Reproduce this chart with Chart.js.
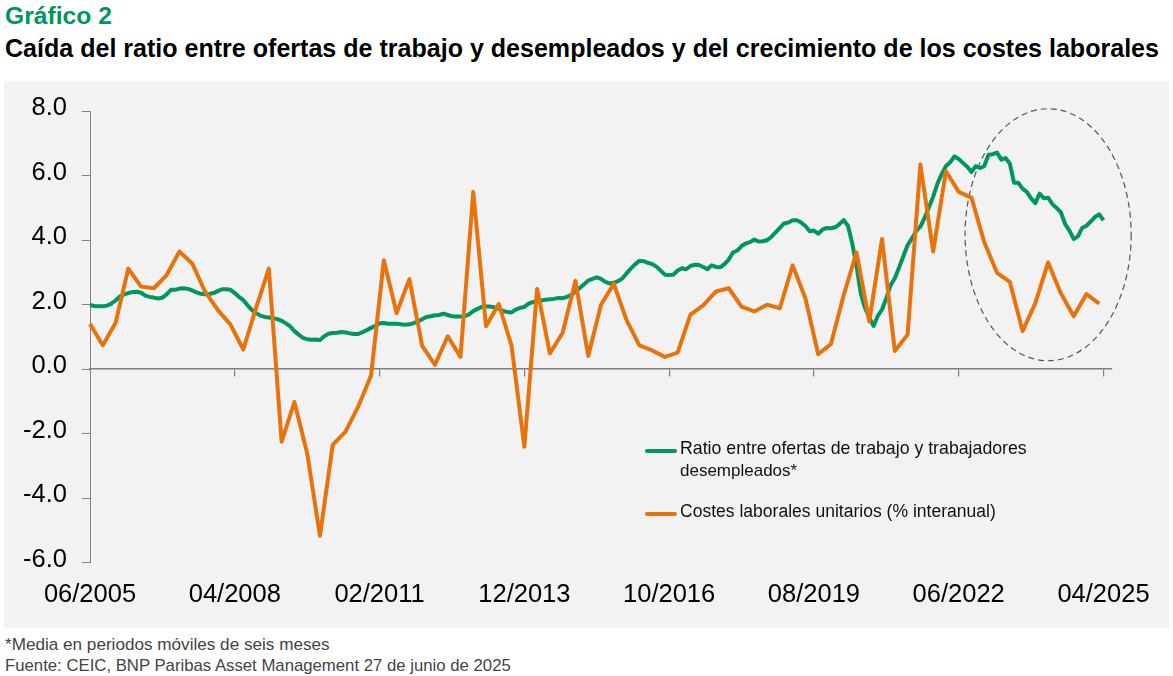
<!DOCTYPE html>
<html><head><meta charset="utf-8">
<script src="https://cdn.jsdelivr.net/npm/chart.js@4.4.1/dist/chart.umd.min.js"></script>
<style>
html,body{margin:0;padding:0;background:#fff;width:1173px;height:676px;overflow:hidden;position:relative;font-family:"Liberation Sans",Arial,sans-serif;}
.t{position:absolute;white-space:nowrap;line-height:1;}
#panel{position:absolute;left:4px;top:81px;width:1165px;height:547px;background:#f2f2f2;}
#c{position:absolute;left:0;top:0;}
.sw{position:absolute;height:4px;border-radius:2px;z-index:2;}
.lg{z-index:2;color:#111;}
.fn{color:#444;}
</style></head><body>
<div class="t" id="t1" style="left:5px;top:4px;font-size:24px;font-weight:bold;color:#00965E" data-w="107">Gráfico 2</div>
<div class="t" id="t2" style="left:5px;top:36px;font-size:22px;font-weight:bold;color:#000" data-w="1155">Caída del ratio entre ofertas de trabajo y desempleados y del crecimiento de los costes laborales</div>
<div id="panel"><canvas id="c" width="1165" height="547"></canvas></div>
<div class="sw" style="left:645px;top:449px;width:32px;background:#00965E"></div>
<div class="t lg" style="left:680px;top:440px;font-size:17px" data-w="347">Ratio entre ofertas de trabajo y trabajadores</div>
<div class="t lg" style="left:680px;top:462px;font-size:17px">desempleados*</div>
<div class="sw" style="left:645px;top:512px;width:32px;background:#E8730C"></div>
<div class="t lg" style="left:680px;top:503px;font-size:17px" data-w="316">Costes laborales unitarios (% interanual)</div>
<div class="t fn" style="left:5px;top:636px;font-size:16.5px" data-w="325">*Media en periodos móviles de seis meses</div>
<div class="t fn" style="left:5px;top:658px;font-size:16.5px" data-w="506">Fuente: CEIC, BNP Paribas Asset Management 27 de junio de 2025</div>
<script>
// ---- data ----
const startYear = 2005, startMonth = 6, monthCount = 241; // 06/2005 .. 06/2025
const months = [];
for (let i = 0; i < monthCount; i++) {
  const m = (startMonth - 1 + i) % 12 + 1;
  const y = startYear + Math.floor((startMonth - 1 + i) / 12);
  months.push(String(m).padStart(2, '0') + '/' + y);
}
const tickLabels = ['06/2005','04/2008','02/2011','12/2013','10/2016','08/2019','06/2022','04/2025'];

// Ratio entre ofertas de trabajo y trabajadores desempleados (monthly, from 06/2005)
const ratioValues = [
 1.99,1.96,1.95,1.95,1.97,2.03,2.13,2.25,2.32,2.36,
 2.39,2.40,2.37,2.28,2.24,2.22,2.19,2.22,2.32,2.46,
 2.46,2.50,2.51,2.49,2.44,2.38,2.34,2.32,2.33,2.36,
 2.42,2.48,2.48,2.46,2.36,2.24,2.14,1.98,1.84,1.74,
 1.66,1.62,1.60,1.58,1.55,1.50,1.42,1.33,1.18,1.07,
 0.97,0.93,0.91,0.92,0.90,1.02,1.10,1.12,1.13,1.15,
 1.14,1.11,1.09,1.09,1.15,1.21,1.28,1.34,1.42,1.43,
 1.41,1.41,1.41,1.39,1.38,1.39,1.43,1.48,1.55,1.62,
 1.64,1.67,1.68,1.72,1.68,1.64,1.63,1.63,1.64,1.70,
 1.80,1.87,1.93,1.94,1.94,1.92,1.87,1.81,1.77,1.76,
 1.85,1.90,1.93,2.03,2.08,2.10,2.13,2.15,2.17,2.18,
 2.21,2.20,2.24,2.30,2.40,2.52,2.63,2.75,2.80,2.85,
 2.80,2.71,2.66,2.68,2.73,2.81,2.97,3.12,3.25,3.36,
 3.35,3.30,3.26,3.18,3.06,2.93,2.92,2.93,3.06,3.13,
 3.10,3.20,3.24,3.23,3.17,3.10,3.22,3.17,3.16,3.26,
 3.40,3.62,3.68,3.82,3.90,3.94,4.02,3.96,3.97,4.00,
 4.10,4.24,4.38,4.52,4.55,4.62,4.62,4.55,4.44,4.28,
 4.30,4.20,4.33,4.38,4.37,4.40,4.50,4.62,4.45,3.90,
 3.20,2.35,1.90,1.60,1.34,1.65,1.85,2.20,2.60,2.82,
 3.15,3.50,3.85,4.05,4.28,4.42,4.70,5.02,5.35,5.75,
 6.05,6.30,6.42,6.60,6.52,6.40,6.28,6.12,6.30,6.24,
 6.30,6.65,6.67,6.72,6.50,6.55,6.38,5.78,5.78,5.60,
 5.50,5.30,5.15,5.45,5.30,5.32,5.12,5.00,4.86,4.50,
 4.30,4.04,4.12,4.38,4.45,4.58,4.72,4.80,4.62
];

// Costes laborales unitarios (% interanual), quarterly, from Q2 2005
const ulcValues = [
 1.40,0.74,1.43,3.12,2.56,2.51,2.92,3.65,3.28,2.41,
 1.84,1.38,0.61,1.90,3.12,-2.25,-1.02,-2.61,-5.17,-2.35,
 -1.94,-1.16,-0.20,3.38,1.74,2.79,0.72,0.13,1.02,0.38,
 5.50,1.33,2.02,0.72,-2.41,2.49,0.49,1.13,2.74,0.41,
 2.00,2.65,1.52,0.74,0.58,0.38,0.51,1.69,1.98,2.41,
 2.51,1.94,1.79,2.00,1.89,3.22,2.20,0.46,0.78,2.30,
 3.62,1.48,4.04,0.56,1.07,6.35,3.65,6.14,5.50,5.32,
 3.94,2.99,2.71,1.18,2.05,3.31,2.35,1.64,2.33,2.03
];
const ulcMonths = ulcValues.map((v, k) => months[3 * k]);

const seriesNames = ['Ratio entre ofertas de trabajo y trabajadores desempleados*', 'Costes laborales unitarios (% interanual)'];
const greenColor = '#00965E', orangeColor = '#E8730C', axisColor = '#808080';

// dashed ellipse highlight (in data units: month index / value)
const ellipseCenterIdx = 225, ellipseCenterVal = 4.17, ellipseHalfIdx = 19.5, ellipseHalfVal = 3.91;

// ---- fit text widths ----
document.querySelectorAll('[data-w]').forEach(el => {
  const target = parseFloat(el.dataset.w);
  const w = el.getBoundingClientRect().width;
  const fs = parseFloat(getComputedStyle(el).fontSize);
  if (w > 0) el.style.fontSize = (fs * target / w) + 'px';
});

const tickFont = {family: "'Liberation Sans', Arial, sans-serif", size: 25.5};
const ellipsePlugin = {
  id: 'ellipseMark',
  beforeDatasetsDraw(chart) {
    const {ctx, scales: {x, y}} = chart;
    const cx = x.getPixelForValue(ellipseCenterIdx);
    const cy = y.getPixelForValue(ellipseCenterVal);
    const rx = x.getPixelForValue(ellipseCenterIdx + ellipseHalfIdx) - cx;
    const ry = cy - y.getPixelForValue(ellipseCenterVal + ellipseHalfVal);
    ctx.save();
    ctx.beginPath();
    ctx.setLineDash([6, 4]);
    ctx.lineWidth = 1.2;
    ctx.strokeStyle = '#555';
    ctx.ellipse(cx, cy, rx, ry, 0, 0, Math.PI * 2);
    ctx.stroke();
    ctx.restore();
  }
};

new Chart(document.getElementById('c'), {
  type: 'line',
  data: {
    labels: months,
    datasets: [
      {label: seriesNames[0], data: ratioValues, borderColor: greenColor, borderWidth: 4, borderJoinStyle: 'round', pointRadius: 0, tension: 0, order: 1, xAxisID: 'x', yAxisID: 'y'},
      {label: seriesNames[1], data: ulcMonths.map((m, k) => ({x: m, y: ulcValues[k]})), borderColor: orangeColor, borderWidth: 4, borderJoinStyle: 'round', pointRadius: 0, tension: 0, order: 0, xAxisID: 'x', yAxisID: 'y'}
    ]
  },
  options: {
    responsive: false,
    animation: false,
    events: [],
    layout: {padding: {left: 0, top: 25.5, right: 57, bottom: 0}},
    plugins: {legend: {display: false}, tooltip: {enabled: false}},
    scales: {
      x: {
        type: 'category',
        position: 'bottom',
        offset: false,
        grid: {display: false},
        border: {display: false},
        ticks: {
          autoSkip: false, maxRotation: 0, minRotation: 0, padding: 9,
          color: '#000', font: tickFont,
          callback: function (val, i) { const l = this.getLabelForValue(val); return tickLabels.includes(l) ? l : null; }
        },
        afterFit(s) { s.height = 65.5; }
      },
      x0: {
        type: 'category',
        position: {y: 0},
        offset: false,
        grid: {
          drawOnChartArea: false, drawTicks: true, tickLength: 7, lineWidth: 1.2,
          color: (c) => (tickLabels.includes(months[c.index]) && c.index > 0) ? axisColor : 'rgba(0,0,0,0)'
        },
        border: {display: true, color: axisColor, width: 1.6},
        ticks: {display: false, autoSkip: false, maxRotation: 0}
      },
      y: {
        min: -6, max: 8,
        grid: {drawOnChartArea: false, drawTicks: true, tickLength: 8, color: axisColor, lineWidth: 1},
        border: {display: true, color: axisColor, width: 1},
        ticks: {stepSize: 2, padding: 15, labelOffset: -3, color: '#000', font: tickFont, callback: v => v.toFixed(1)},
        afterFit(s) { s.width = 86; }
      }
    }
  },
  plugins: [ellipsePlugin]
});
</script>
</body></html>
